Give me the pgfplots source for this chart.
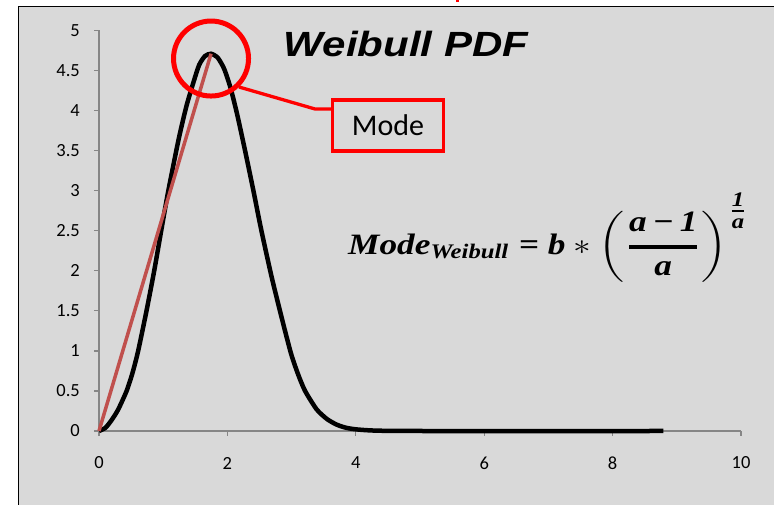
\documentclass[border=0pt]{standalone}
\usepackage{pgfplots}
\pgfplotsset{compat=1.18}
\usepackage{pgfplotstable}
\usepackage{amsmath}
\usepackage{graphicx}
\usepackage{fontspec}
\setmainfont{Carlito}
\newfontfamily\arialf{Liberation Sans}
\newfontfamily\formfont{Liberation Serif}
\newcommand\ff{\formfont\bfseries\itshape}
\definecolor{bgray}{HTML}{D9D9D9}
\definecolor{axgray}{HTML}{868686}
\definecolor{modered}{HTML}{C0504D}
\newcommand\tickfont{\fontsize{18.5}{20}\selectfont}

% curve
\pgfplotstableread{
x y
0 0
0.1 0.04
0.2 0.14
0.30 0.27
0.43 0.5
0.52 0.72
0.61 1.0
0.74 1.5
0.86 2.0
0.96 2.46
1.08 3.0
1.24 3.64
1.36 4.05
1.47 4.35
1.56 4.57
1.65 4.68
1.745 4.71
1.85 4.66
1.95 4.52
2.05 4.28
2.15 3.96
2.27 3.52
2.40 3.02
2.53 2.5
2.69 1.92
2.85 1.40
2.99 0.97
3.10 0.71
3.21 0.50
3.39 0.27
3.55 0.15
3.70 0.08
3.85 0.04
4.01 0.02
4.3 0.005
5 0
8.79 0
}\weibull

\begin{document}
\begin{tikzpicture}
\fill[white] (-99pt,-74pt) rectangle (675pt,431pt);
\fill[bgray] (-80.7pt,-74pt) rectangle (675pt,424.3pt);
\draw[black, line width=1.4pt] (-80.7pt,-74pt) -- (-80.7pt,424.3pt) -- (675pt,424.3pt);
\draw[red, line width=3pt] (358pt,431pt) -- (358pt,428.5pt);
\begin{axis}[
  at={(0pt,0pt)}, anchor=south west,
  scale only axis, width=642pt, height=400.5pt,
  xmin=0, xmax=10, ymin=0, ymax=5,
  axis lines*=left,
  axis line style={axgray, line width=1.3pt},
  xtick={0,2,4,6,8,10},
  ytick={0,0.5,1,1.5,2,2.5,3,3.5,4,4.5,5},
  tick align=outside, major tick length=5pt,
  tick style={axgray, line width=1.3pt},
  /pgf/number format/assume math mode=true,
  xticklabel={\tickfont\pgfmathprintnumber{\tick}},
  yticklabel={\tickfont\pgfmathprintnumber{\tick}},
  yticklabel style={text=black, anchor=east, inner sep=0pt, xshift=-14pt},
  xticklabel style={text=black, anchor=center, inner sep=0pt, yshift=-27pt},
  clip=false,
]
\addplot[black, line width=4.5pt, smooth, tension=0.4] table {\weibull};
\addplot[modered, line width=3.5pt] coordinates {(0,0) (1.745,4.71)};
\draw[red, line width=5pt] (axis cs:1.745,4.65) circle[radius=37.5pt];
\end{axis}
\draw[red, line width=3.3pt] (140pt,344pt) -- (216pt,322pt) -- (232pt,322pt);
\node[draw=red, line width=3.3pt, minimum width=111pt, minimum height=51pt,
  inner sep=0pt, font=\fontsize{30}{32}\selectfont] at (289pt,305.5pt) {Mode};
\node[anchor=base, inner sep=0pt] at (307pt,374.3pt)
  {\scalebox{1.2}[1]{\fontsize{35}{40}\selectfont\arialf\bfseries\itshape Weibull PDF}};
\node[anchor=north west, inner sep=0pt] at (249pt,238pt)
  {\resizebox*{402pt}{89pt}{$\text{\ff Mode}_{\text{\ff Weibull}}
   \text{\ff\ =\ }\text{\ff b}\ast
   \left(\genfrac{}{}{1.4pt}{0}{\text{\ff a\,\char"2212\,1}}{\text{\ff a}}\right)^{\genfrac{}{}{0.9pt}{1}{\text{\ff 1}}{\text{\ff a}}}$}};
\pgfresetboundingbox
\path[use as bounding box] (-99pt,-74pt) rectangle (675pt,431pt);
\end{tikzpicture}
\end{document}
